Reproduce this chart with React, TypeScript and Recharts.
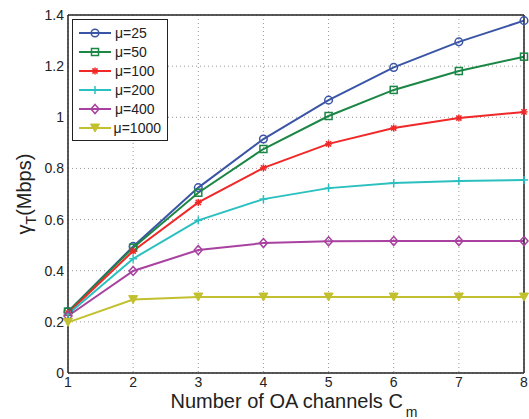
import React from "react";
import { LineChart, Line, XAxis, YAxis, CartesianGrid, Legend } from "recharts";

const CHANNELS = [1, 2, 3, 4, 5, 6, 7, 8];
const Y_TICKS = [0, 0.2, 0.4, 0.6, 0.8, 1, 1.2, 1.4];

const MU_25 = [0.24, 0.495, 0.725, 0.915, 1.067, 1.195, 1.295, 1.378];
const MU_50 = [0.24, 0.49, 0.705, 0.876, 1.005, 1.107, 1.181, 1.237];
const MU_100 = [0.235, 0.477, 0.667, 0.802, 0.896, 0.958, 0.997, 1.021];
const MU_200 = [0.23, 0.447, 0.597, 0.68, 0.723, 0.743, 0.751, 0.755];
const MU_400 = [0.223, 0.399, 0.481, 0.508, 0.515, 0.516, 0.516, 0.516];
const MU_1000 = [0.198, 0.287, 0.297, 0.297, 0.297, 0.297, 0.297, 0.297];

const SERIES = [
  { key: "mu25", name: "μ=25", values: MU_25, color: "#3b55a6", marker: "circle" },
  { key: "mu50", name: "μ=50", values: MU_50, color: "#1b8645", marker: "square" },
  { key: "mu100", name: "μ=100", values: MU_100, color: "#f02828", marker: "star" },
  { key: "mu200", name: "μ=200", values: MU_200, color: "#2bc0c0", marker: "plus" },
  { key: "mu400", name: "μ=400", values: MU_400, color: "#a8419f", marker: "diamond" },
  { key: "mu1000", name: "μ=1000", values: MU_1000, color: "#c2c02e", marker: "triangle" },
];

const data = CHANNELS.map((c, i) => {
  const row: Record<string, number> = { c };
  SERIES.forEach((s) => {
    row[s.key] = s.values[i];
  });
  return row;
});

const FONT = '"Liberation Sans", Arial, Helvetica, sans-serif';
const INK = "#222";

function Marker({ type, cx, cy, color }: { type: string; cx: number; cy: number; color: string }) {
  const sw = 1.5;
  switch (type) {
    case "circle":
      return <circle cx={cx} cy={cy} r={3.8} fill="none" stroke={color} strokeWidth={sw} />;
    case "square":
      return <rect x={cx - 3.5} y={cy - 3.5} width={7} height={7} fill="none" stroke={color} strokeWidth={sw} />;
    case "star":
      return (
        <g stroke={color} strokeWidth={sw}>
          <line x1={cx - 3.5} y1={cy} x2={cx + 3.5} y2={cy} />
          <line x1={cx} y1={cy - 3.5} x2={cx} y2={cy + 3.5} />
          <line x1={cx - 2.6} y1={cy - 2.6} x2={cx + 2.6} y2={cy + 2.6} />
          <line x1={cx - 2.6} y1={cy + 2.6} x2={cx + 2.6} y2={cy - 2.6} />
        </g>
      );
    case "plus":
      return (
        <g stroke={color} strokeWidth={sw}>
          <line x1={cx - 4} y1={cy} x2={cx + 4} y2={cy} />
          <line x1={cx} y1={cy - 4} x2={cx} y2={cy + 4} />
        </g>
      );
    case "diamond":
      return (
        <polygon
          points={`${cx},${cy - 4.5} ${cx + 4},${cy} ${cx},${cy + 4.5} ${cx - 4},${cy}`}
          fill="none"
          stroke={color}
          strokeWidth={sw}
        />
      );
    default:
      return (
        <polygon
          points={`${cx - 4.5},${cy - 4} ${cx + 4.5},${cy - 4} ${cx},${cy + 4}`}
          fill={color}
          stroke={color}
          strokeWidth={1}
        />
      );
  }
}

const renderLegend = () => (
  <div
    style={{
      border: `1.5px solid ${INK}`,
      background: "#fff",
      padding: "3px 6px 3px 5px",
      fontFamily: FONT,
      fontSize: 14,
      color: INK,
      boxSizing: "border-box",
      width: 96,
    }}
  >
    {SERIES.map((s) => (
      <div key={s.key} style={{ display: "flex", alignItems: "center", height: 19 }}>
        <svg width={34} height={12} style={{ marginRight: 3 }}>
          <line x1={1} y1={6} x2={33} y2={6} stroke={s.color} strokeWidth={2} />
          <Marker type={s.marker} cx={17} cy={6} color={s.color} />
        </svg>
        <span>{s.name}</span>
      </div>
    ))}
  </div>
);

const XLabel = () => (
  <text x={294} y={408} textAnchor="middle" fontSize={20} fill={INK} fontFamily={FONT}>
    Number of OA channels C
    <tspan dx={3} dy={9} fontSize={14}>m</tspan>
  </text>
);

const YLabel = () => (
  <text
    x={31}
    y={194}
    textAnchor="middle"
    fontSize={20}
    fill={INK}
    fontFamily={FONT}
    transform="rotate(-90, 31, 194)"
  >
    γ
    <tspan dy={5} fontSize={14}>T</tspan>
    <tspan dy={-5}>(Mbps)</tspan>
  </text>
);

const tickStyle = { fontSize: 14, fill: INK, fontFamily: FONT };

const App: React.FC = () => {
  return (
    <div style={{ position: "absolute", left: 0, top: 0, background: "#fff" }}>
      <LineChart width={529} height={419} data={data} margin={{ top: 15, right: 5, bottom: 0, left: 0 }}>
        <CartesianGrid stroke="#9a9a9a" strokeDasharray="1 3" />
        <XAxis
          dataKey="c"
          type="number"
          domain={[1, 8]}
          ticks={CHANNELS}
          height={46}
          tickLine={false}
          tickSize={0}
          tickMargin={4}
          axisLine={{ stroke: INK, strokeWidth: 1.5 }}
          tick={tickStyle}
          label={<XLabel />}
        />
        <XAxis
          xAxisId="bticks"
          dataKey="c"
          type="number"
          domain={[1, 8]}
          ticks={CHANNELS}
          orientation="bottom"
          mirror
          tick={false}
          axisLine={false}
          tickSize={5}
          tickLine={{ stroke: INK }}
        />
        <XAxis
          xAxisId="top"
          dataKey="c"
          type="number"
          domain={[1, 8]}
          ticks={CHANNELS}
          orientation="top"
          mirror
          tick={false}
          axisLine={{ stroke: INK, strokeWidth: 1.5 }}
          tickSize={5}
          tickLine={{ stroke: INK }}
        />
        <YAxis
          type="number"
          domain={[0, 1.4]}
          ticks={Y_TICKS}
          width={68}
          tickLine={false}
          tickSize={0}
          tickMargin={4}
          axisLine={{ stroke: INK, strokeWidth: 1.5 }}
          tick={tickStyle}
          tickFormatter={(v: number) => String(v)}
          label={<YLabel />}
        />
        <YAxis
          yAxisId="lticks"
          type="number"
          domain={[0, 1.4]}
          ticks={Y_TICKS}
          orientation="left"
          mirror
          tick={false}
          axisLine={false}
          tickSize={5}
          tickLine={{ stroke: INK }}
        />
        <YAxis
          yAxisId="right"
          type="number"
          domain={[0, 1.4]}
          ticks={Y_TICKS}
          orientation="right"
          mirror
          tick={false}
          axisLine={{ stroke: INK, strokeWidth: 1.5 }}
          tickSize={5}
          tickLine={{ stroke: INK }}
        />
        <Legend
          layout="vertical"
          align="center"
          verticalAlign="middle"
          content={renderLegend}
          wrapperStyle={{ left: 72, top: 19, width: 96, height: "auto" }}
        />
        {SERIES.map((s) => (
          <Line
            key={s.key}
            dataKey={s.key}
            name={s.name}
            stroke={s.color}
            strokeWidth={2}
            isAnimationActive={false}
            dot={(p: any) => <Marker key={`${s.key}-${p.index}`} type={s.marker} cx={p.cx} cy={p.cy} color={s.color} />}
            activeDot={false}
          />
        ))}
      </LineChart>
    </div>
  );
};

export default App;
